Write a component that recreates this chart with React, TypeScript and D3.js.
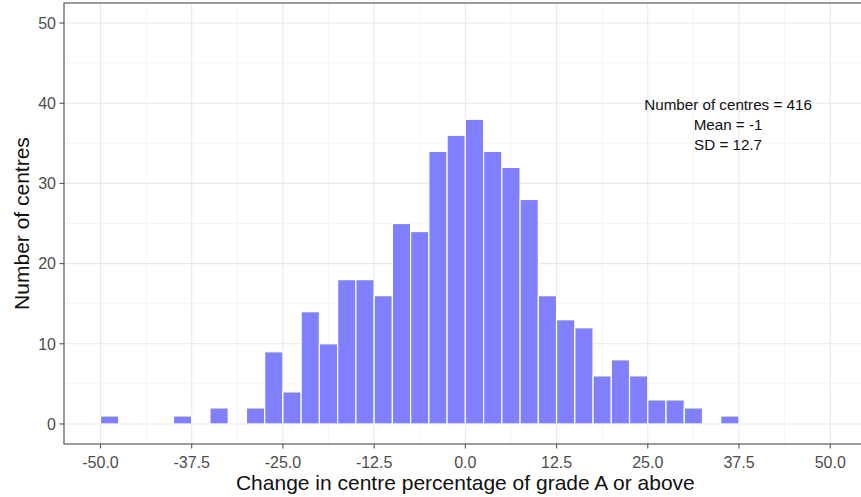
import React from "react";
import * as d3 from "d3";

const binStarts = [
  -50, -47.5, -45, -42.5, -40, -37.5, -35, -32.5, -30, -27.5, -25, -22.5, -20, -17.5, -15, -12.5,
  -10, -7.5, -5, -2.5, 0, 2.5, 5, 7.5, 10, 12.5, 15, 17.5, 20, 22.5, 25, 27.5, 30, 32.5, 35,
];
const counts = [
  1, 0, 0, 0, 1, 0, 2, 0, 2, 9, 4, 14, 10, 18, 18, 16,
  25, 24, 34, 36, 38, 34, 32, 28, 16, 13, 12, 6, 8, 6, 3, 3, 2, 0, 1,
];
const binWidth = 2.5;
const xTicks = [-50, -37.5, -25, -12.5, 0, 12.5, 25, 37.5, 50];
const xMinor = [-43.75, -31.25, -18.75, -6.25, 6.25, 18.75, 31.25, 43.75];
const yTicks = [0, 10, 20, 30, 40, 50];
const yMinor = [5, 15, 25, 35, 45];
const annotationLines = ["Number of centres = 416", "Mean = -1", "SD = 12.7"];
const xTitle = "Change in centre percentage of grade A or above";
const yTitle = "Number of centres";

const W = 861;
const H = 497;
const FONT = "'Liberation Sans', Arial, Helvetica, sans-serif";

export default function App() {
  const x = d3.scaleLinear().domain([-55, 55]).range([64, 866.7]);
  const y = d3.scaleLinear().domain([-2.5, 52.5]).range([444, 3]);
  const [px0, px1] = x.range();
  const [py0, py1] = y.range();

  return (
    <svg
      width={W}
      height={H}
      style={{ position: "absolute", left: 0, top: 0, background: "#fff" }}
      fontFamily={FONT}
    >
      <defs>
        <clipPath id="panel">
          <rect x={px0} y={py1} width={px1 - px0} height={py0 - py1} />
        </clipPath>
      </defs>
      <rect x={px0} y={py1} width={px1 - px0} height={py0 - py1} fill="#fff" />
      <g clipPath="url(#panel)">
        {yMinor.map((v) => (
          <line key={"ym" + v} x1={px0} x2={px1} y1={y(v)} y2={y(v)} stroke="#f0f0f0" strokeWidth={0.7} />
        ))}
        {xMinor.map((v) => (
          <line key={"xm" + v} x1={x(v)} x2={x(v)} y1={py0} y2={py1} stroke="#f0f0f0" strokeWidth={0.7} />
        ))}
        {yTicks.map((v) => (
          <line key={"yg" + v} x1={px0} x2={px1} y1={y(v)} y2={y(v)} stroke="#e8e8e8" strokeWidth={1.1} />
        ))}
        {xTicks.map((v) => (
          <line key={"xg" + v} x1={x(v)} x2={x(v)} y1={py0} y2={py1} stroke="#e8e8e8" strokeWidth={1.1} />
        ))}
        {binStarts.map((s, i) =>
          counts[i] > 0 ? (
            <rect
              key={"b" + s}
              x={x(s)}
              y={y(counts[i])}
              width={x(s + binWidth) - x(s)}
              height={y(0) - y(counts[i])}
              fill="#8080ff"
              stroke="#ffffff"
              strokeWidth={1.2}
            />
          ) : null
        )}
        {annotationLines.map((t, i) => (
          <text
            key={"a" + i}
            x={x(36)}
            y={y(37.4) + (i - 1) * 20 + 5.5}
            textAnchor="middle"
            fontSize={15.2}
            fill="#111"
          >
            {t}
          </text>
        ))}
      </g>
      <rect
        x={px0}
        y={py1}
        width={px1 - px0}
        height={py0 - py1}
        fill="none"
        stroke="#666"
        strokeWidth={1.3}
      />
      {yTicks.map((v) => (
        <g key={"yt" + v}>
          <line x1={px0 - 4.5} x2={px0} y1={y(v)} y2={y(v)} stroke="#555" strokeWidth={1.1} />
          <text x={px0 - 8} y={y(v)} dy="0.36em" textAnchor="end" fontSize={16} fill="#4d4d4d">
            {v}
          </text>
        </g>
      ))}
      {xTicks.map((v) => (
        <g key={"xt" + v}>
          <line x1={x(v)} x2={x(v)} y1={py0} y2={py0 + 4.5} stroke="#555" strokeWidth={1.1} />
          <text x={x(v)} y={467.5} textAnchor="middle" fontSize={16} fill="#4d4d4d">
            {d3.format(".1f")(v).replace("−", "-")}
          </text>
        </g>
      ))}
      <text x={(px0 + px1) / 2} y={489.5} textAnchor="middle" fontSize={21} fill="#111">
        {xTitle}
      </text>
      <text
        transform={`translate(28.5,${(py0 + py1) / 2}) rotate(-90)`}
        textAnchor="middle"
        fontSize={21}
        fill="#111"
      >
        {yTitle}
      </text>
    </svg>
  );
}
